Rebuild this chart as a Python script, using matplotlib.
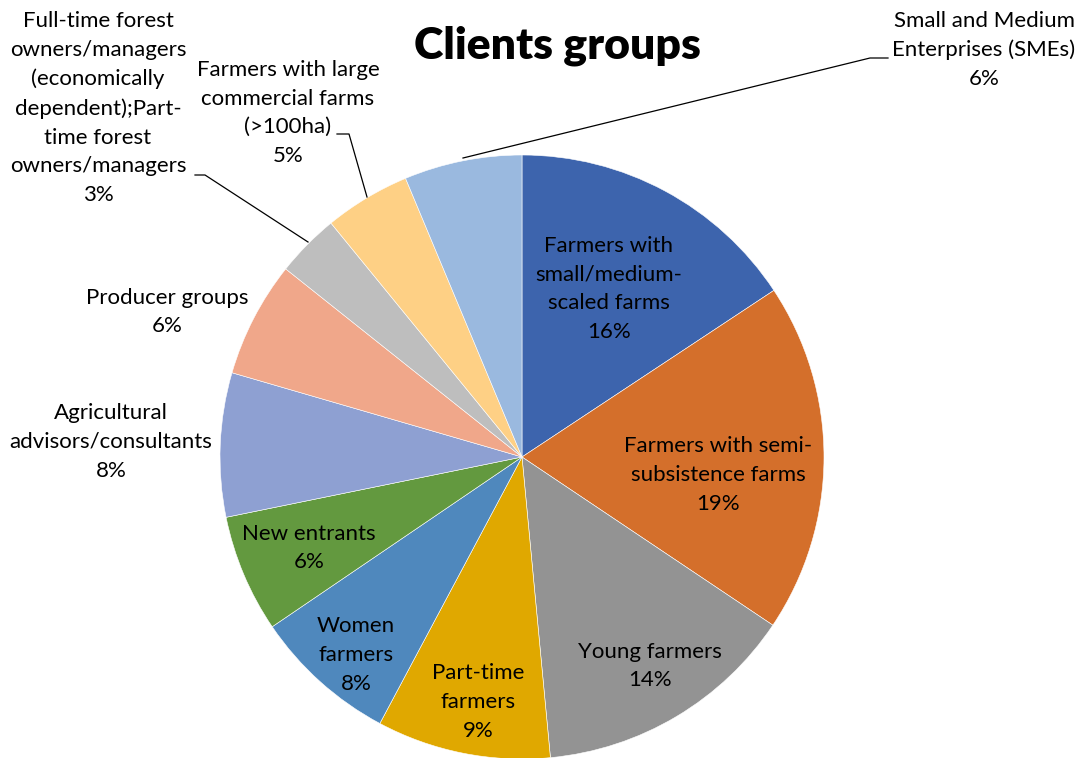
import matplotlib
matplotlib.use("Agg")
import matplotlib.pyplot as plt

# ── data ──────────────────────────────────────────────────────────────────────
groups = [
    "Farmers with\nsmall/medium-\nscaled farms",
    "Farmers with semi-\nsubsistence farms",
    "Young farmers",
    "Part-time\nfarmers",
    "Women\nfarmers",
    "New entrants",
    "Agricultural\nadvisors/consultants",
    "Producer groups",
    "Full-time forest\nowners/managers\n(economically\ndependent);Part-\ntime forest\nowners/managers",
    "Farmers with large\ncommercial farms\n(>100ha)",
    "Small and Medium\nEnterprises (SMEs)",
]
shares = [15.7, 18.7, 14.1, 9.3, 7.7, 6.3, 7.7, 6.2, 3.4, 4.6, 6.3]

colors = ["#3D64AD", "#D46F2B", "#939393", "#E0A800", "#4F88BD", "#63993F",
          "#8EA0D2", "#F0A78A", "#BEBEBE", "#FED085", "#9AB9DF"]

# label centres in image pixels (x, y from top)
label_pos = [(609, 289), (718, 475), (650, 666), (478, 702), (356, 655),
             (309, 548), (111, 442), (167, 312), (98, 108), (288, 113),
             (984, 50)]

# leader lines (image pixels) for the outside labels
leaders = {
    8: [(195, 175), (205, 175), (308, 242)],
    9: [(337, 134), (349, 134), (367, 197)],
    10: [(888, 58), (870, 58), (463, 158)],
}

W, H = 1084, 758
CX, CY, R = 522, 457, 302

plt.rcParams["font.family"] = ["Lato", "DejaVu Sans"]

fig = plt.figure(figsize=(W / 100, H / 100), dpi=100)
ax = fig.add_axes([0, 0, 1, 1])

ax.pie(
    shares,
    colors=colors,
    startangle=90,
    counterclock=False,
    center=(CX, H - CY),
    radius=R,
    wedgeprops=dict(edgecolor="white", linewidth=0.4),
)

for name, v, (x, y) in zip(groups, shares, label_pos):
    ax.text(x, H - y, f"{name}\n{v:.0f}%", ha="center", va="center",
            fontsize=16, linespacing=1.54, color="black")

for pts in leaders.values():
    ax.plot([p[0] for p in pts], [H - p[1] for p in pts], color="black", lw=0.9)

ax.text(557, H - 46, "Clients groups", ha="center", va="center",
        fontsize=32, fontweight="heavy")

ax.set_xlim(0, W)
ax.set_ylim(0, H)
ax.set_aspect("auto")
ax.axis("off")

fig.savefig("out.png", dpi=100, facecolor="white")
